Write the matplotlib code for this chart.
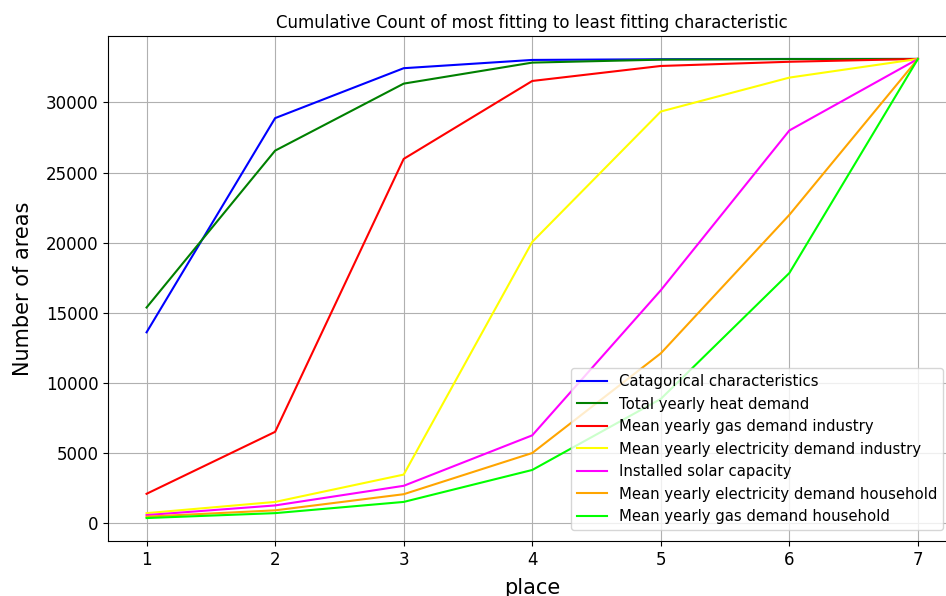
import matplotlib.pyplot as plt

places = [1, 2, 3, 4, 5, 6, 7]

labels = ['Catagorical characteristics', 'Total yearly heat demand',
          'Mean yearly gas demand industry', 'Mean yearly electricity demand industry',
          'Installed solar capacity', 'Mean yearly electricity demand household',
          'Mean yearly gas demand household']
colors = ['blue', 'green', 'red', 'yellow', 'magenta', 'orange', 'lime']

catagorical = [13600, 28880, 32440, 33030, 33080, 33100, 33100]
heat_total = [15370, 26560, 31340, 32840, 33050, 33090, 33100]
gas_industry = [2080, 6500, 25970, 31530, 32600, 32900, 33100]
elec_industry = [700, 1500, 3450, 20050, 29350, 31770, 33100]
solar = [560, 1250, 2650, 6250, 16600, 28000, 33100]
elec_household = [450, 900, 2050, 4990, 12100, 21980, 33100]
gas_household = [350, 700, 1500, 3780, 8850, 17830, 33100]

series = [catagorical, heat_total, gas_industry, elec_industry,
          solar, elec_household, gas_household]

fig = plt.figure(figsize=(9.46, 5.96), dpi=100)
ax = fig.add_axes([108/946, 55/596, 848.5/946, 505/596])

for vals, lab, col in zip(series, labels, colors):
    ax.plot(places, vals, color=col, label=lab, linewidth=1.5)

ax.set_title('Cumulative Count of most fitting to least fitting characteristic', fontsize=12)
ax.set_xlabel('place', fontsize=15, labelpad=7)
ax.set_ylabel('Number of areas', fontsize=15, labelpad=9)
ax.tick_params(labelsize=12)
ax.grid(True)
ax.legend(loc='lower right', bbox_to_anchor=(0.993, 0.007), fontsize=10.75)

plt.savefig('out.png', dpi=100)
